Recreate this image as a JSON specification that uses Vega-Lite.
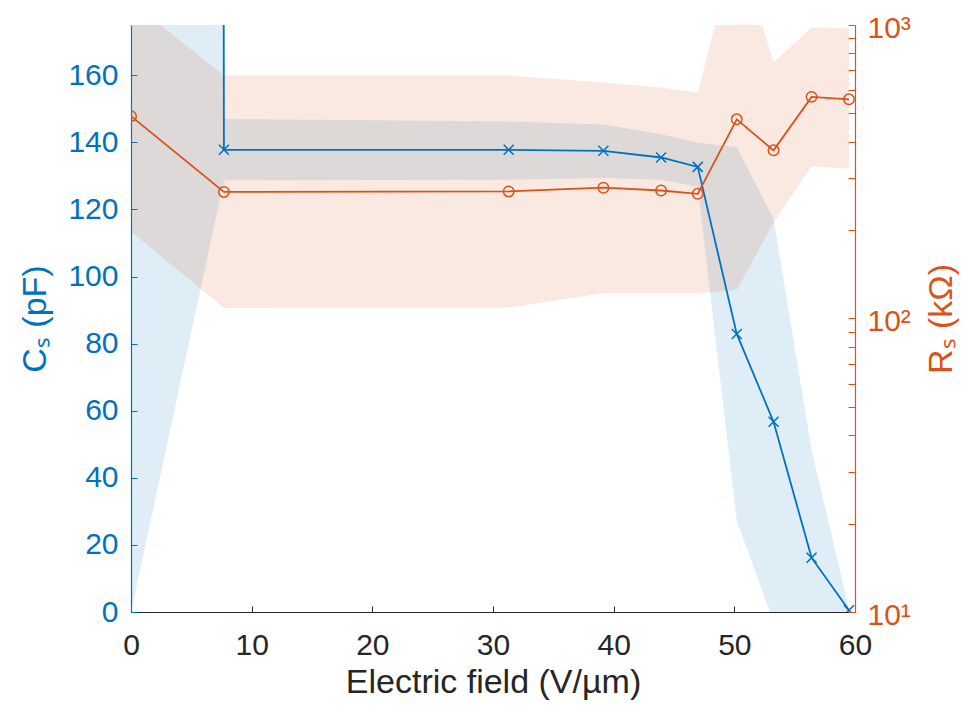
{
  "$schema": "https://vega.github.io/schema/vega-lite/v6.json",
  "autosize": {"type": "none"},
  "padding": {"left": 131, "top": 25, "right": 121, "bottom": 94},
  "width": 724,
  "height": 587,
  "background": "white",
  "config": {
    "view": {"stroke": null},
    "font": "Liberation Sans",
    "axis": {
      "labelFont": "Liberation Sans",
      "titleFont": "Liberation Sans",
      "titleFontWeight": "normal",
      "grid": false,
      "labelFontSize": 30,
      "titleFontSize": 34
    }
  },
  "data": {
    "values": [
      {"E": 0, "Cs": 20000, "Cs_lo": 0, "Cs_hi": 40000, "Rs": 489, "Rs_lo": 198, "Rs_hi": 1200},
      {"E": 7.7, "Cs": 137.8, "Cs_lo": 128.7, "Cs_hi": 147.0, "Rs": 270, "Rs_lo": 108.5, "Rs_hi": 673},
      {"E": 31.3, "Cs": 137.8, "Cs_lo": 128.9, "Cs_hi": 146.2, "Rs": 271, "Rs_lo": 109, "Rs_hi": 673},
      {"E": 39.15, "Cs": 137.5, "Cs_lo": 129.4, "Cs_hi": 145.3, "Rs": 279, "Rs_lo": 122, "Rs_hi": 637},
      {"E": 43.93, "Cs": 135.5, "Cs_lo": 128.9, "Cs_hi": 142.4, "Rs": 273, "Rs_lo": 122, "Rs_hi": 612},
      {"E": 46.97, "Cs": 132.7, "Cs_lo": 126.8, "Cs_hi": 139.9, "Rs": 266, "Rs_lo": 122, "Rs_hi": 589},
      {"E": 50.2, "Cs": 82.9, "Cs_lo": 27.2, "Cs_hi": 138.6, "Rs": 477, "Rs_lo": 125, "Rs_hi": 1940},
      {"E": 53.25, "Cs": 56.7, "Cs_lo": -3, "Cs_hi": 117.2, "Rs": 374, "Rs_lo": 212, "Rs_hi": 745},
      {"E": 56.4, "Cs": 16.2, "Cs_lo": -16, "Cs_hi": 48.3, "Rs": 569, "Rs_lo": 330, "Rs_hi": 979},
      {"E": 59.5, "Cs": 0.5, "Cs_lo": 0, "Cs_hi": 1, "Rs": 558, "Rs_lo": 324, "Rs_hi": 975}
    ]
  },
  "encoding": {
    "x": {
      "field": "E",
      "type": "quantitative",
      "scale": {"domain": [0, 60], "nice": false, "zero": false},
      "axis": {
        "title": "Electric field (V/µm)",
        "values": [0, 10, 20, 30, 40, 50, 60],
        "format": "d",
        "labelFlush": false,
        "labelOverlap": false,
        "tickSize": -6,
        "labelPadding": 24,
        "titlePadding": 5,
        "domainColor": "#262626",
        "tickColor": "#262626",
        "labelColor": "#262626",
        "titleColor": "#262626",
        "domainWidth": 1,
        "tickWidth": 1
      }
    }
  },
  "layer": [
    {
      "mark": {"type": "area", "color": "#0072BD", "opacity": 0.13, "clip": true},
      "encoding": {
        "y": {
          "field": "Cs_lo",
          "type": "quantitative",
          "scale": {"domain": [0, 175], "nice": false, "zero": false},
          "axis": {
            "orient": "left",
            "title": "Cₛ (pF)",
            "values": [0, 20, 40, 60, 80, 100, 120, 140, 160],
            "format": "d",
            "labelFlush": false,
            "labelOverlap": false,
            "tickSize": -6,
            "labelPadding": 19,
            "titlePadding": 15,
            "domainColor": "#0072BD",
            "tickColor": "#0072BD",
            "labelColor": "#0072BD",
            "titleColor": "#0072BD",
            "domainWidth": 1.2,
            "tickWidth": 1
          }
        },
        "y2": {"field": "Cs_hi"}
      }
    },
    {
      "mark": {"type": "area", "color": "#D95319", "opacity": 0.13, "clip": true},
      "encoding": {
        "y": {
          "field": "Rs_lo",
          "type": "quantitative",
          "scale": {"type": "log", "domain": [10, 1000], "nice": false},
          "axis": {
            "orient": "right",
            "title": "Rₛ (kΩ)",
            "titleAngle": 270,
            "titleBaseline": "top",
            "values": [10, 20, 30, 40, 50, 60, 70, 80, 90, 100, 200, 300, 400, 500, 600, 700, 800, 900, 1000],
            "labelExpr": "datum.value == 10 ? '10¹' : datum.value == 100 ? '10²' : datum.value == 1000 ? '10³' : ''",
            "labelFlush": false,
            "labelOverlap": false,
            "labelAlign": "left",
            "labelBaseline": "middle",
            "labelOffset": 3,
            "tickSize": -7,
            "labelPadding": 19,
            "titlePadding": 14,
            "domainColor": "#D95319",
            "tickColor": "#D95319",
            "labelColor": "#D95319",
            "titleColor": "#D95319",
            "domainWidth": 1.2,
            "tickWidth": 1,
            "encode": {
              "ticks": {
                "update": {
                  "x2": {"signal": "(datum.value == 10 || datum.value == 100 || datum.value == 1000) ? -7 : -4"}
                }
              }
            }
          }
        },
        "y2": {"field": "Rs_hi"}
      }
    },
    {
      "layer": [
        {
          "mark": {"type": "line", "color": "#0072BD", "strokeWidth": 1.8, "clip": true},
          "encoding": {
            "y": {"field": "Cs", "type": "quantitative", "scale": {"domain": [0, 175], "nice": false, "zero": false}, "axis": null}
          }
        },
        {
          "mark": {"type": "point", "shape": "M-1,-1L1,1M-1,1L1,-1", "filled": false, "color": "#0072BD", "size": 100, "strokeWidth": 1.5, "opacity": 1, "clip": true},
          "encoding": {
            "y": {"field": "Cs", "type": "quantitative", "scale": {"domain": [0, 175], "nice": false, "zero": false}, "axis": null}
          }
        }
      ]
    },
    {
      "layer": [
        {
          "mark": {"type": "line", "color": "#D95319", "strokeWidth": 1.8, "clip": true},
          "encoding": {
            "y": {"field": "Rs", "type": "quantitative", "scale": {"type": "log", "domain": [10, 1000], "nice": false}, "axis": null}
          }
        },
        {
          "mark": {"type": "point", "shape": "circle", "filled": false, "color": "#D95319", "size": 110, "strokeWidth": 1.5, "opacity": 1, "clip": true},
          "encoding": {
            "y": {"field": "Rs", "type": "quantitative", "scale": {"type": "log", "domain": [10, 1000], "nice": false}, "axis": null}
          }
        }
      ]
    }
  ],
  "resolve": {"scale": {"y": "independent"}, "axis": {"y": "independent"}}
}
